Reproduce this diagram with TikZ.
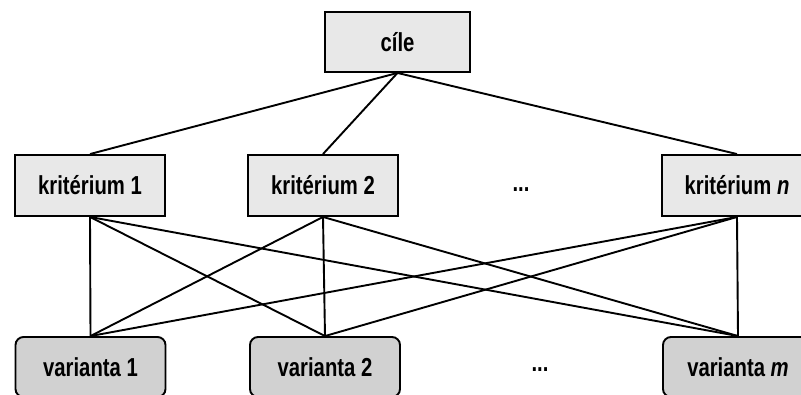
\documentclass[tikz,border=0pt]{standalone}
\usepackage{fontspec}
\newfontfamily\labfont[FakeStretch=0.78]{Liberation Sans}
\begin{document}
\begin{tikzpicture}[x=1pt,y=-1pt,
  lab/.style={font=\labfont\bfseries\fontsize{26}{28}\selectfont, line width=1.9pt, draw=black, inner sep=0pt, anchor=center},
  crit/.style={lab, fill=black!9, minimum width=150pt, minimum height=61pt},
  goal/.style={lab, fill=black!9, minimum width=145pt, minimum height=60pt},
  var/.style={lab, fill=black!18, rounded corners=8pt, minimum width=150pt, minimum height=60pt},
  conn/.style={line width=1.9pt, black},
  dots/.style={font=\labfont\bfseries\fontsize{26}{28}\selectfont, inner sep=0pt}]
\useasboundingbox (0,0) rectangle (801,394);
\begin{scope}
\clip (0,0) rectangle (801,394);
\node[goal] (cile) at (397.5,42) {cíle};
\node[crit] (k1) at (90,185.5) {kritérium 1};
\node[crit] (k2) at (323,185.5) {kritérium 2};
\node[crit] (kn) at (737,185.5) {kritérium \textit{n}};
\node[var] (v1) at (90.5,367) {varianta 1};
\node[var] (v2) at (325,367) {varianta 2};
\node[var] (vm) at (738,367) {varianta \textit{m}};
\node[dots] (d1) at (521,190) {...};
\node[dots] (d2) at (540,370) {...};
\foreach \k in {k1,k2,kn} {
  \draw[conn] (cile.south) -- (\k.north);
  \foreach \v in {v1,v2,vm} {
    \draw[conn] (\k.south) -- (\v.north);
  }
}
\end{scope}
\end{tikzpicture}
\end{document}
